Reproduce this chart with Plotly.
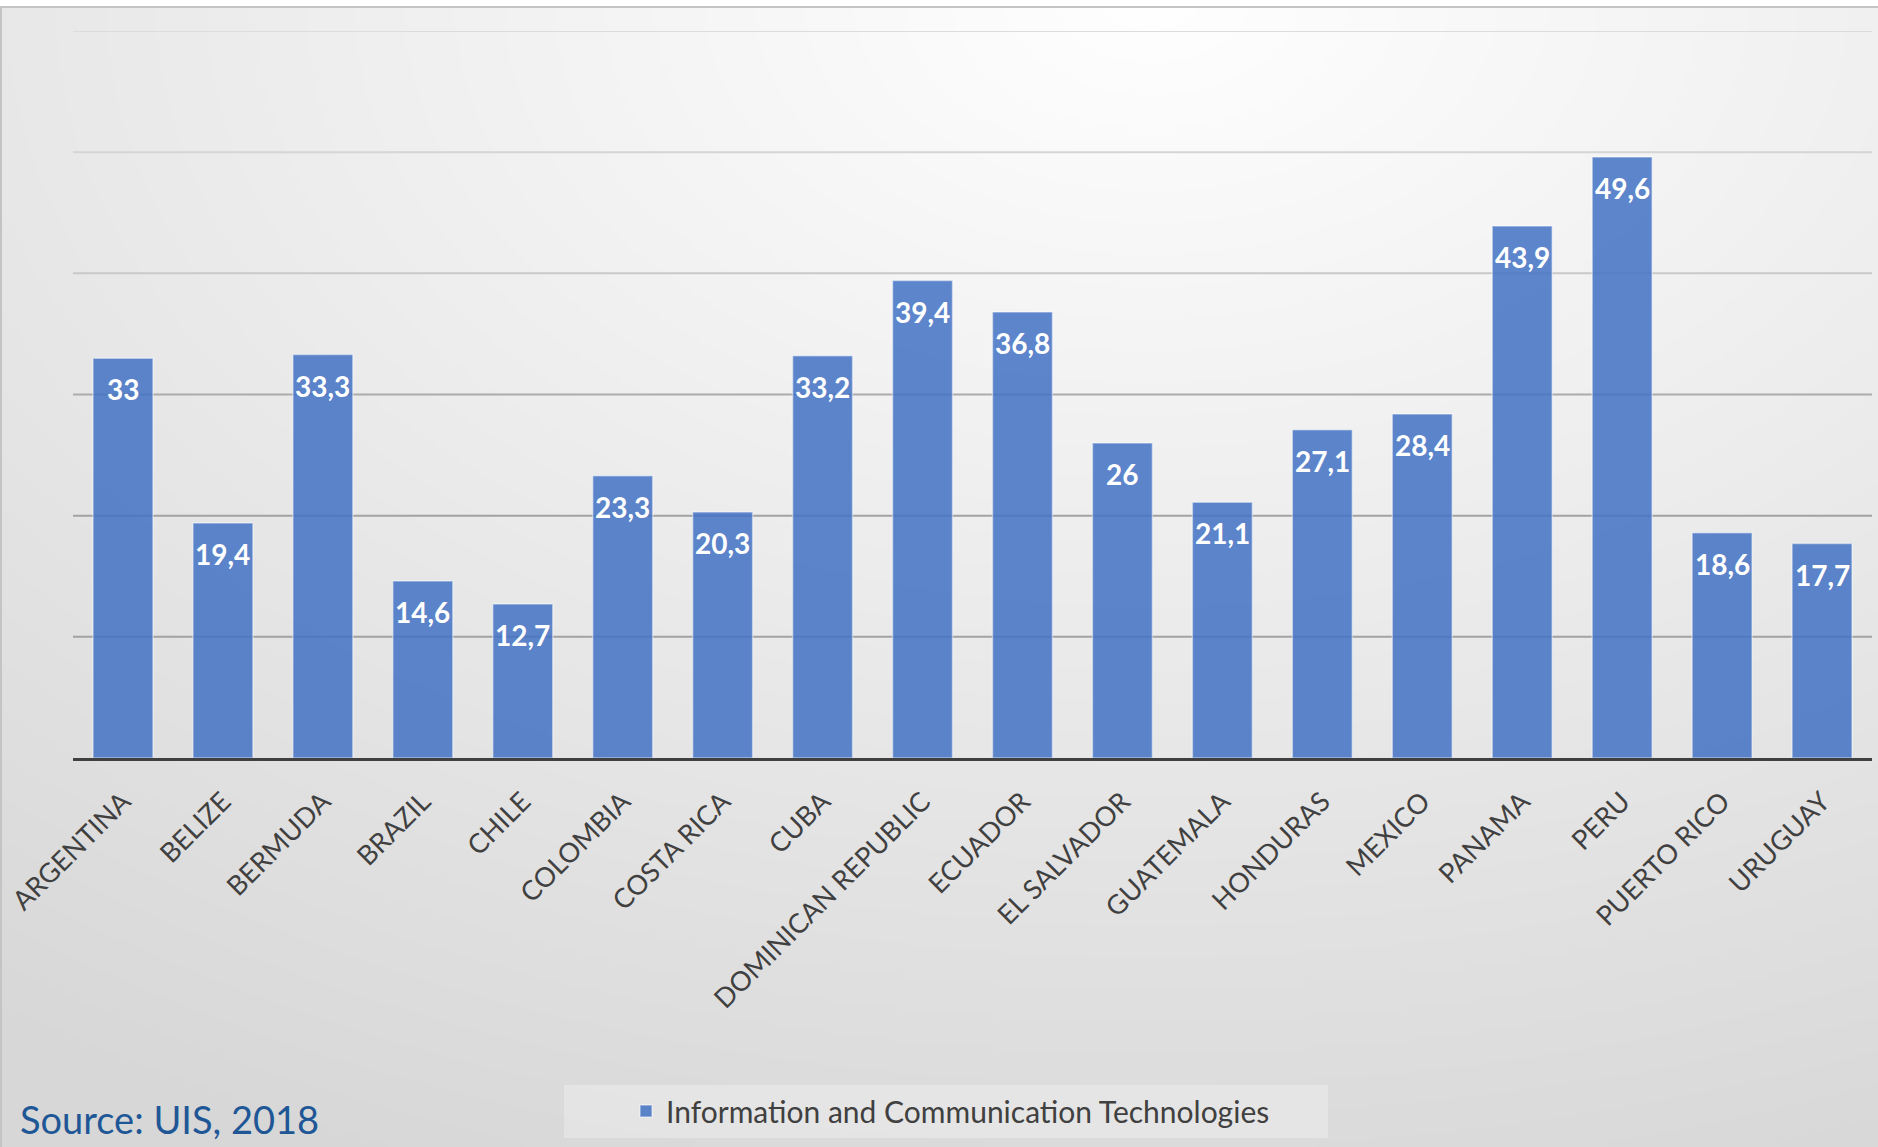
import base64
import struct
import zlib

import numpy as np
import plotly.graph_objects as go

# Share of graduates in Information and Communication Technologies (%)
countries = [
    "ARGENTINA", "BELIZE", "BERMUDA", "BRAZIL", "CHILE", "COLOMBIA",
    "COSTA RICA", "CUBA", "DOMINICAN REPUBLIC", "ECUADOR", "EL SALVADOR",
    "GUATEMALA", "HONDURAS", "MEXICO", "PANAMA", "PERU", "PUERTO RICO",
    "URUGUAY",
]
ict_share = [
    33, 19.4, 33.3, 14.6, 12.7, 23.3,
    20.3, 33.2, 39.4, 36.8, 26,
    21.1, 27.1, 28.4, 43.9, 49.6, 18.6,
    17.7,
]
grid_levels = [10, 20, 30, 40, 50, 60]
series_name = "Information and Communication Technologies"
source_note = "Source: UIS, 2018"

W, H = 1878, 1147
M_L, M_R, M_T, M_B = 73, 6, 31, 389
PW, PH = W - M_L - M_R, H - M_T - M_B


def px_x(x):
    return (x - M_L) / PW


def px_y(y):
    return (H - M_B - y) / PH


def gradient_png(w, h, step, top):
    """Soft radial grey backdrop, lightest near the top centre-right."""
    ys, xs = np.mgrid[0:h, 0:w]
    gx = xs * step
    gy = ys * step + top
    drop = np.minimum(40.0, np.hypot((gx - 1150) / 50.0, gy / 32.0))
    v = np.clip(255 - drop, 0, 255).astype(np.uint8)
    raw = b"".join(b"\x00" + v[r].tobytes() for r in range(h))

    def chunk(tag, data):
        body = tag + data
        return (struct.pack(">I", len(data)) + body
                + struct.pack(">I", zlib.crc32(body) & 0xFFFFFFFF))

    png = (b"\x89PNG\r\n\x1a\n"
           + chunk(b"IHDR", struct.pack(">IIBBBBB", w, h, 8, 0, 0, 0, 0))
           + chunk(b"IDAT", zlib.compress(raw, 9))
           + chunk(b"IEND", b""))
    return "data:image/png;base64," + base64.b64encode(png).decode()


STEP = 4
FRAME_TOP = 7
bg_src = gradient_png((W - 1) // STEP + 1, (H - FRAME_TOP) // STEP + 1, STEP, FRAME_TOP)

fig = go.Figure()
fig.add_trace(go.Bar(
    x=countries,
    y=ict_share,
    name=series_name,
    marker=dict(
        color="rgba(68,114,196,0.86)",
        line=dict(color="rgba(255,255,255,0.45)", width=1.5),
    ),
    hoverinfo="x+y",
))

# value labels just inside the top of each bar
for c, v in zip(countries, ict_share):
    fig.add_annotation(
        x=c, y=v, xref="x", yref="y",
        text=f"{v:g}".replace(".", ","),
        showarrow=False, yanchor="middle", yshift=-31,
        font=dict(family="Lato", size=28, color="white", weight="bold"),
    )

# horizontal gridlines, fading towards the top
grid_colors = {10: "#a2a2a2", 20: "#a2a2a2", 30: "#ababab",
               40: "#c9c9c9", 50: "#d5d5d5", 60: "#dcdcdc"}
shapes = []
for g in grid_levels:
    shapes.append(dict(type="line", xref="paper", yref="y", x0=0, x1=1,
                       y0=g, y1=g, layer="below",
                       line=dict(color=grid_colors[g], width=2)))

# outer frame (top and left edges)
shapes.append(dict(type="line", xref="paper", yref="paper",
                   x0=px_x(0), x1=px_x(W), y0=px_y(FRAME_TOP), y1=px_y(FRAME_TOP),
                   line=dict(color="#c4c4c4", width=2)))
shapes.append(dict(type="line", xref="paper", yref="paper",
                   x0=px_x(1), x1=px_x(1), y0=px_y(FRAME_TOP), y1=px_y(H),
                   line=dict(color="#c4c4c4", width=2)))

# legend panel
shapes.append(dict(type="rect", xref="paper", yref="paper",
                   x0=px_x(564), x1=px_x(1328), y0=px_y(1085), y1=px_y(1138),
                   line=dict(width=0), fillcolor="rgba(255,255,255,0.28)",
                   layer="below"))

fig.add_annotation(
    xref="paper", yref="paper", x=px_x(18), y=px_y(1119),
    xanchor="left", yanchor="middle", showarrow=False,
    text=source_note,
    font=dict(family="Lato", size=38, color="#1f5796"),
)

fig.update_layout(
    width=W, height=H,
    margin=dict(l=M_L, r=M_R, t=M_T, b=M_B, pad=0),
    paper_bgcolor="white",
    plot_bgcolor="rgba(0,0,0,0)",
    bargap=0.4,
    shapes=shapes,
    images=[dict(source=bg_src, xref="paper", yref="paper",
                 x=px_x(1), y=px_y(FRAME_TOP),
                 sizex=(W - 1) / PW, sizey=(H - FRAME_TOP) / PH,
                 xanchor="left", yanchor="top", sizing="stretch",
                 layer="below")],
    showlegend=True,
    legend=dict(
        orientation="h", x=px_x(626), y=px_y(1111),
        xanchor="left", yanchor="middle",
        bgcolor="rgba(0,0,0,0)", borderwidth=0,
        font=dict(family="Lato", size=30, color="#404040"),
    ),
    xaxis=dict(
        tickangle=-45,
        tickfont=dict(family="Lato", size=27, color="#404040"),
        showline=True, linecolor="#404040", linewidth=3,
        ticks="outside", ticklen=14, tickcolor="rgba(0,0,0,0)",
        showgrid=False, automargin=False, fixedrange=True,
    ),
    yaxis=dict(
        range=[0, 60], showticklabels=False, showgrid=False,
        zeroline=False, showline=False, fixedrange=True,
    ),
)

fig.write_html("out.html")
